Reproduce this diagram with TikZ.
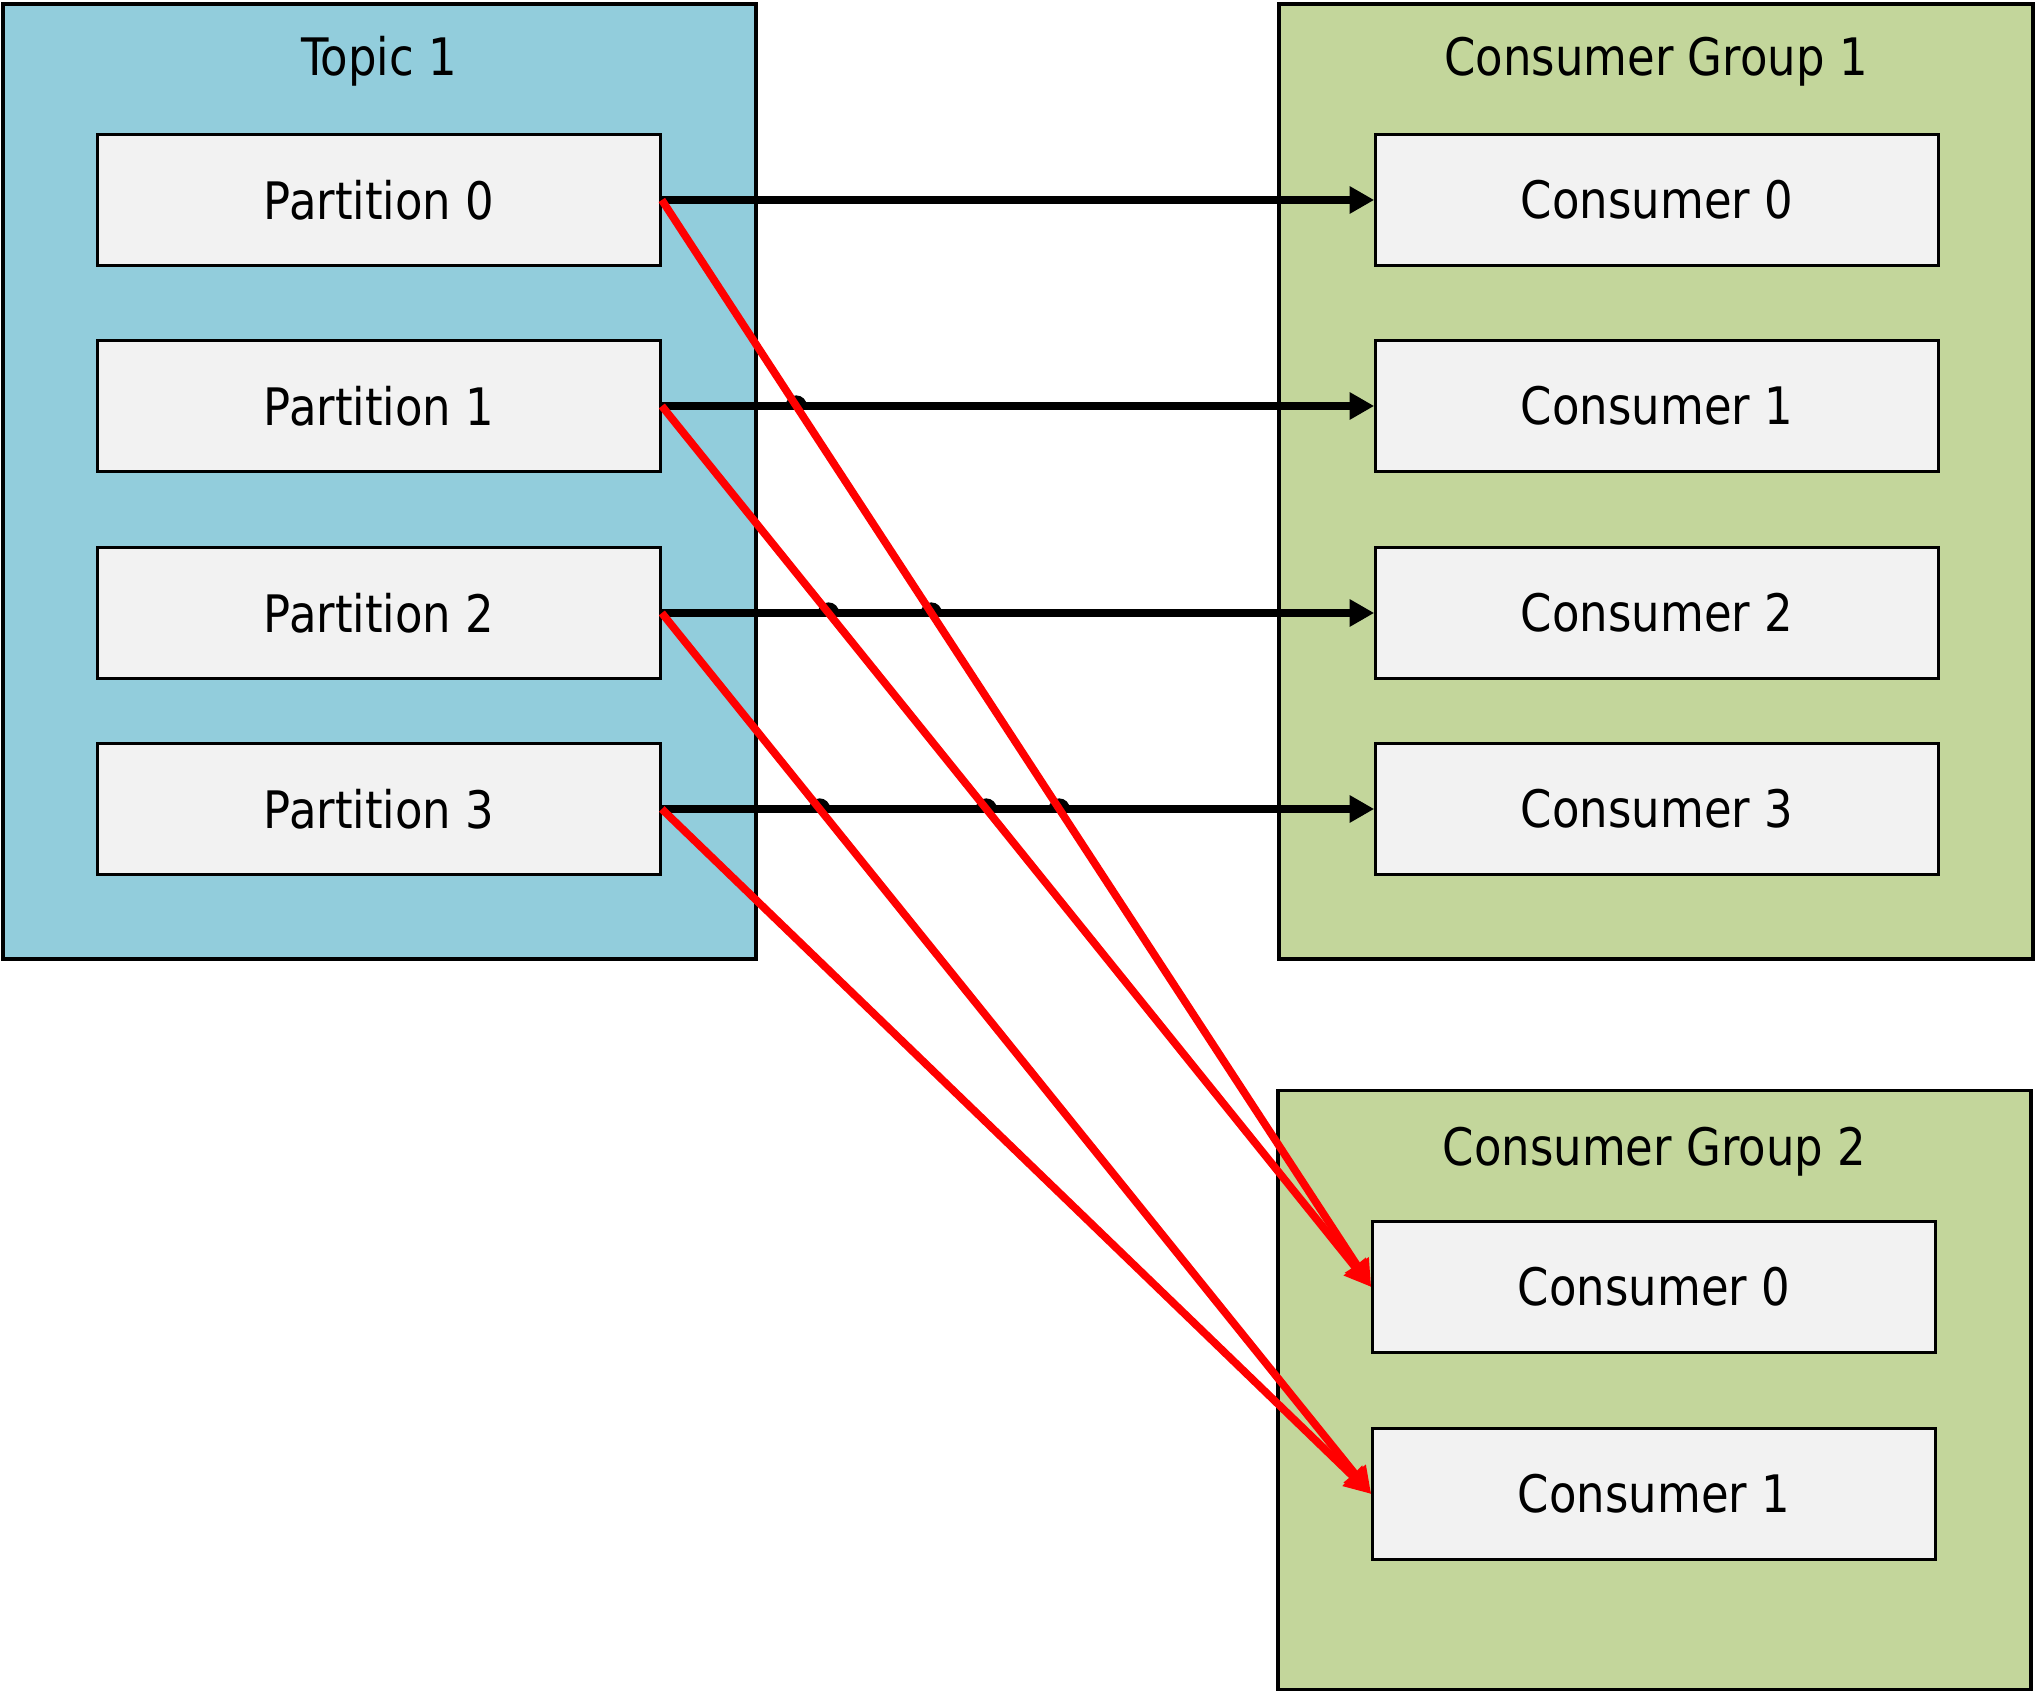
\documentclass[tikz,border=0pt]{standalone}
\usepackage{fontspec}
\setmainfont{DejaVu Sans}[FakeStretch=0.87]
\usepackage{tikz}
\usetikzlibrary{arrows.meta,positioning,intersections}
\definecolor{cT}{HTML}{92CDDC}
\definecolor{cG}{HTML}{C3D69B}
\definecolor{cB}{HTML}{F2F2F2}
\definecolor{cR}{HTML}{FF0000}
\tikzset{
  frame/.style={draw=black,line width=0.9pt,inner sep=0pt},
  item/.style={draw=black,line width=0.75pt,fill=cB,inner sep=0pt,
               minimum width=5.63cm,minimum height=1.31cm,
               font=\fontsize{14.7}{17}\selectfont},
  grouplbl/.style={anchor=base,font=\fontsize{14.7}{17}\selectfont},
  feed/.style={-{Triangle[length=7pt,width=7.4pt]},line width=2.2pt,black},
  refeed/.style={-{Triangle[length=7.5pt,width=7.6pt]},line width=2.2pt,cR},
  hop/.style={line width=2.2pt,black},
}

\begin{document}
\begin{tikzpicture}
  \useasboundingbox (0,0) rectangle (20.38,16.94);
  % containers
  \node[frame,fill=cT,minimum width=7.53cm,minimum height=9.55cm](topic) at (3.795,12.125){};
  \node[frame,fill=cG,minimum width=7.54cm,minimum height=9.55cm](grp1) at (16.56,12.125){};
  \node[frame,fill=cG,minimum width=7.53cm,minimum height=5.99cm](grp2) at (16.545,3.04){};
  \node[grouplbl](topiclbl) at (3.79,16.18){Topic 1};
  \node[grouplbl](grp1lbl) at (16.56,16.18){Consumer Group 1};
  \node[grouplbl](grp2lbl) at (16.545,5.29){Consumer Group 2};
  % partitions and consumers
  \foreach \i/\y in {0/14.94,1/12.88,2/10.81,3/8.85}{
    \node[item](p\i) at (3.79,\y){Partition \i};
    \node[item](c\i) at (16.57,\y){Consumer \i};
  }
  \node[item](g0) at (16.54,4.07){Consumer 0};
  \node[item](g1) at (16.54,2.00){Consumer 1};
  % group 1
  \foreach \i in {0,...,3}
    \draw[feed,name path=b\i](p\i.east)--(c\i.west);
  % group 2
  \path[name path=r0](p0.east)--(g0.west);
  \path[name path=r1](p1.east)--(g0.west);
  \path[name path=r2](p2.east)--(g1.west);
  \foreach \bl/\rl in {b1/r0,b2/r0,b2/r1,b3/r0,b3/r1,b3/r2}{
    \path[name intersections={of/.expanded=\bl\space and \rl,by=hx}];
    \draw[hop]([xshift=-1.9pt]hx) arc[start angle=180,end angle=0,radius=1.9pt];
  }
  \draw[refeed](p0.east)--(g0.west);
  \draw[refeed](p1.east)--(g0.west);
  \draw[refeed](p2.east)--(g1.west);
  \draw[refeed](p3.east)--(g1.west);
\end{tikzpicture}
\end{document}
